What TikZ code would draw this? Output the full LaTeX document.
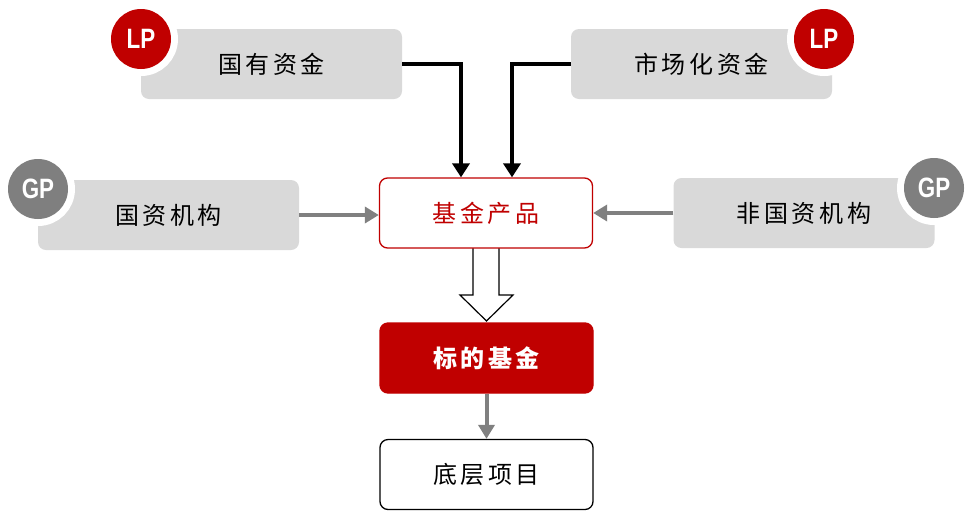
\documentclass[tikz,border=0pt]{standalone}
\usepackage{fontspec}
\usetikzlibrary{arrows.meta}
\newfontfamily\cjk{Noto Sans CJK SC}[LetterSpace=15]
\newfontfamily\badgefont{Liberation Sans}[FakeStretch=0.8]
\definecolor{darkred}{HTML}{C00000}
\definecolor{boxgray}{HTML}{D9D9D9}
\definecolor{arrowgray}{HTML}{808080}
\definecolor{gpgray}{HTML}{7F7F7F}
\begin{document}
\begin{tikzpicture}
		[x=1pt,y=-1pt,
		source/.style={rectangle,rounded corners=8pt,fill=boxgray,
			minimum width=261pt,minimum height=70pt,
			font=\cjk\fontsize{24}{24}\selectfont},
		fund/.style={rectangle,rounded corners=8pt,draw,line width=1.3pt,fill=white,
			minimum width=213pt,minimum height=70pt,
			font=\cjk\fontsize{24}{24}\selectfont},
		badge/.style={circle,minimum size=60pt,inner sep=0pt,text=white,
			preaction={draw=white,line width=14pt},
			font=\badgefont\bfseries\fontsize{28}{28}\selectfont},
		money/.style={line width=4pt,-{Triangle[length=14pt,width=17pt]}},
		grayarrow/.style={arrowgray,line width=4pt,-{Triangle[length=14pt,width=16pt]}}]
		\useasboundingbox (0,0) rectangle (973,512);
		\node[source] (gy) at (271.5,64) {国有资金};
		\node[source] (sc) at (701.5,64) {市场化资金};
		\node[source] (gz) at (168.5,215) {国资机构};
		\node[source] (fg) at (804,213) {非国资机构};
		\node[badge,fill=darkred] (lpa) at (141,39) {LP};
		\node[badge,fill=darkred] (lpb) at (824,39) {LP};
		\node[badge,fill=gpgray] (gpa) at (38,189) {GP};
		\node[badge,fill=gpgray] (gpb) at (934,188) {GP};
		\draw[line width=1.2pt,fill=white] (473,248) -- (473,295) -- (460,295)
			-- (486.5,321) -- (513,295) -- (499,295) -- (499,248);
		\node[fund,draw=darkred,text=darkred] (prod) at (486,213) {基金产品};
		\node[fund,draw=darkred,fill=darkred,text=white,font=\cjk\bfseries\fontsize{24}{24}\selectfont] (target) at (486.5,358) {标的基金};
		\node[fund,draw=black] (base) at (486.5,474.5) {底层项目};
		\draw[money] (gy.east) -| ([xshift=-25pt]prod.north);
		\draw[money] (sc.west) -| ([xshift=26pt]prod.north);
		\draw[grayarrow] (gz.east) -- (gz.east -| prod.west);
		\draw[grayarrow] (fg.west) -- (prod.east);
		\draw[grayarrow] (target.south) -- (base.north);
	\end{tikzpicture}
\end{document}
